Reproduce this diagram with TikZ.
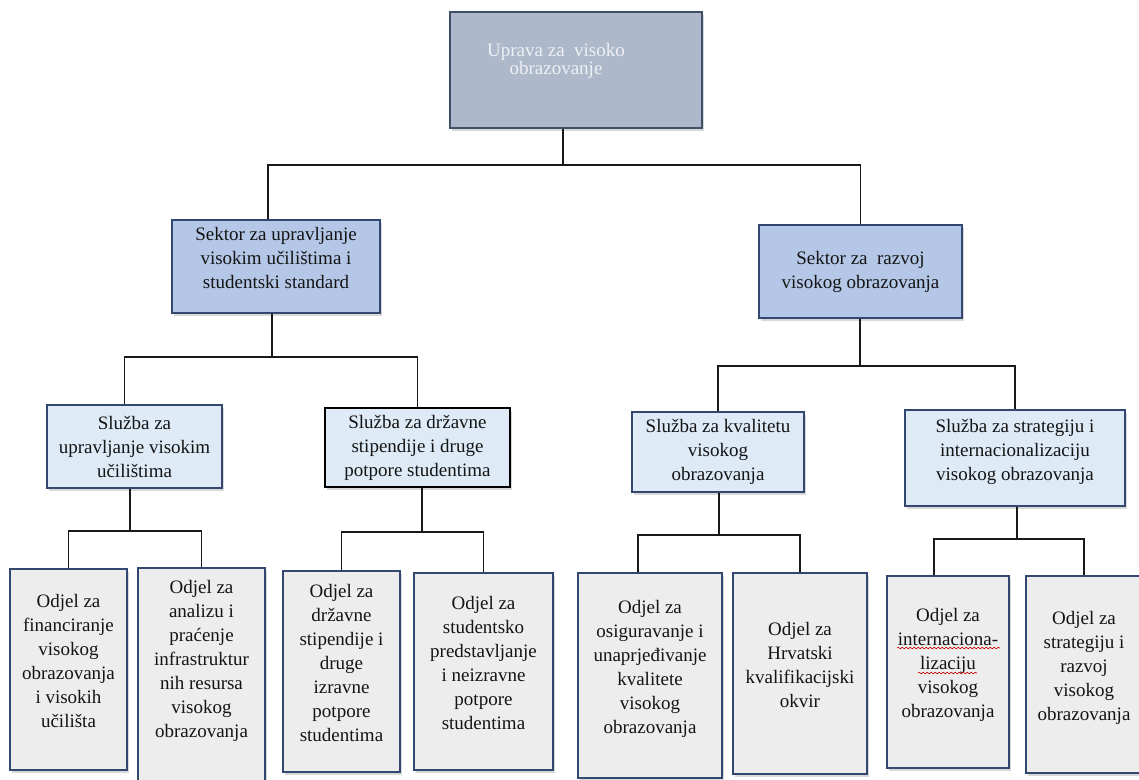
\documentclass[tikz,border=0pt]{standalone}
\usepackage{fontspec}
\setmainfont{Liberation Serif}
\newfontfamily\timesfont{Liberation Serif}
\usetikzlibrary{shadows,decorations.pathmorphing}
\definecolor{upravafill}{RGB}{173,185,202}
\definecolor{upravarub}{RGB}{64,78,104}
\definecolor{upravatext}{RGB}{238,240,244}
\definecolor{sektorfill}{RGB}{180,199,231}
\definecolor{sluzbafill}{RGB}{222,235,247}
\definecolor{odjelfill}{RGB}{237,237,237}
\definecolor{rub}{RGB}{50,72,112}
\definecolor{tekst}{RGB}{20,20,20}
\definecolor{veza}{RGB}{25,25,25}

\begin{document}
\begin{tikzpicture}[x=1pt, y=-1pt,
  kutija/.style={rectangle, draw=rub, line width=1.3pt, inner sep=2pt, align=center, text=tekst,
    font=\timesfont\fontsize{19}{24}\selectfont,
    drop shadow={shadow xshift=2pt, shadow yshift=-2.5pt, opacity=0.3}},
  uprava/.style={kutija, fill=upravafill, draw=upravarub},
  sektor/.style={kutija, fill=sektorfill},
  sluzba/.style={kutija, fill=sluzbafill},
  odjel/.style={kutija, fill=odjelfill, text depth=18pt},
  veza/.style={draw=veza, line width=1.2pt}]
\useasboundingbox[fill=white] (0,0) rectangle (1139,779);

% razina 1
\node[uprava, minimum width=252, minimum height=116] (uprava) at (576,70) {};
\node[font=\timesfont\fontsize{19}{17.5}\selectfont, text=upravatext, align=center] (upravatekst) at (556,61) {Uprava za\ \ visoko\\obrazovanje};

% razina 2
\node[sektor, minimum width=208, minimum height=93, text depth=18pt] (sektor1) at (276,266.5) {Sektor za upravljanje\\visokim učilištima i\\studentski standard};
\node[sektor, minimum width=203, minimum height=93] (sektor2) at (860.5,271.5) {Sektor za\ \ razvoj\\visokog obrazovanja};

% razina 3
\node[sluzba, minimum width=175, minimum height=83] (sluzba1) at (134.5,446.5) {Služba za\\upravljanje visokim\\učilištima};
\node[sluzba, draw=black, minimum width=185, minimum height=79] (sluzba2) at (417.5,447.5) {Služba za državne\\stipendije i druge\\potpore studentima};
\node[sluzba, minimum width=172, minimum height=80] (sluzba3) at (718,452) {Služba za kvalitetu\\visokog\\obrazovanja};
\node[sluzba, minimum width=220, minimum height=96, text depth=16pt] (sluzba4) at (1015,458) {Služba za strategiju i\\internacionalizaciju\\visokog obrazovanja};

% razina 4
\node[odjel, minimum width=117, minimum height=201] (odjel1) at (68.5,669.5) {Odjel za\\financiranje\\visokog\\obrazovanja\\i visokih\\učilišta};
\node[odjel, minimum width=127, minimum height=222, text depth=40pt] (odjel2) at (201.5,679) {Odjel za\\analizu i\\praćenje\\infrastruktur\\nih resursa\\visokog\\obrazovanja};
\node[odjel, minimum width=117, minimum height=201] (odjel3) at (341.5,671.5) {Odjel za\\državne\\stipendije i\\druge\\izravne\\potpore\\studentima};
\node[odjel, minimum width=139, minimum height=197] (odjel4) at (483.5,671.5) {Odjel za\\studentsko\\predstavljanje\\i neizravne\\potpore\\studentima};
\node[odjel, minimum width=144, minimum height=205] (odjel5) at (650,675.5) {Odjel za\\osiguravanje i\\unaprjeđivanje\\kvalitete\\visokog\\obrazovanja};
\node[odjel, minimum width=134, minimum height=201] (odjel6) at (800,673.5) {Odjel za\\Hrvatski\\kvalifikacijski\\okvir};
\node[odjel, minimum width=122, minimum height=192] (odjel7) at (948,672) {Odjel za\\internaciona-\\lizaciju\\visokog\\obrazovanja};
\node[odjel, minimum width=116, minimum height=197] (odjel8) at (1084,674.5) {Odjel za\\strategiju i\\razvoj\\visokog\\obrazovanja};

% veze
\coordinate (v0) at (563,165);
\draw[veza] (uprava.south -| v0) -- (v0);
\draw[veza] ([xshift=-8pt]sektor1.north) |- (v0) -| (sektor2.north);

\coordinate (v1) at (272,357);
\draw[veza] (sektor1.south -| v1) -- (v1);
\draw[veza] ([xshift=-10pt]sluzba1.north) |- (v1) -| (sluzba2.north);

\coordinate (v2) at (860,366);
\draw[veza] (sektor2.south -| v2) -- (v2);
\draw[veza] (sluzba3.north) |- (v2) -| (sluzba4.north);

\coordinate (v3) at (130,531);
\draw[veza] (sluzba1.south -| v3) -- (v3);
\draw[veza] (odjel1.north) |- (v3) -| (odjel2.north);

\coordinate (v4) at (422,532);
\draw[veza] (sluzba2.south -| v4) -- (v4);
\draw[veza] (odjel3.north) |- (v4) -| (odjel4.north);

\coordinate (v5) at (719,535);
\draw[veza] (sluzba3.south -| v5) -- (v5);
\draw[veza] ([xshift=-12pt]odjel5.north) |- (v5) -| (odjel6.north);

\coordinate (v6) at (1017,539);
\draw[veza] (sluzba4.south -| v6) -- (v6);
\draw[veza] ([xshift=-14pt]odjel7.north) |- (v6) -| (odjel8.north);

% valovito podcrtavanje
\draw[red!80!black, line width=0.6pt, decorate, decoration={snake, amplitude=0.8pt, segment length=4pt}] (897,648) -- (1000,648);
\draw[red!80!black, line width=0.6pt, decorate, decoration={snake, amplitude=0.8pt, segment length=4pt}] (918,673) -- (977,673);
\end{tikzpicture}
\end{document}
